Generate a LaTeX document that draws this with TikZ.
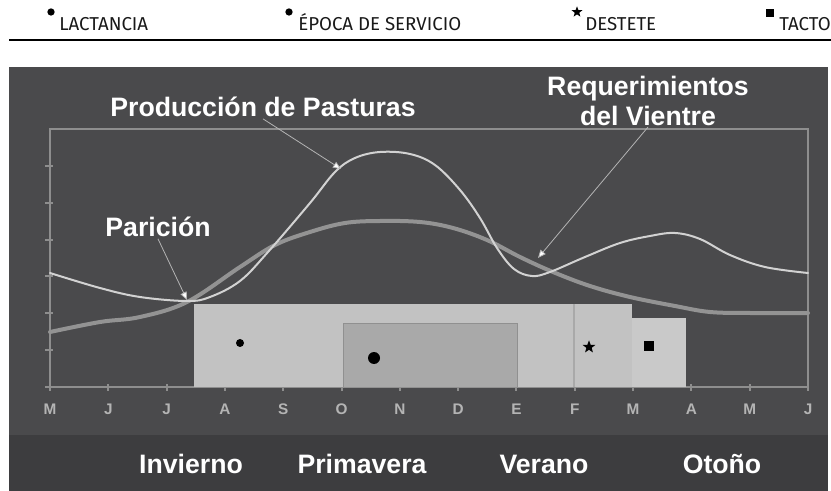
\documentclass[tikz,border=0pt]{standalone}
\usepackage{fontspec}
\setmainfont{Liberation Sans}
\newfontfamily\leyendafont{Fira Sans}
\usetikzlibrary{arrows.meta,shapes.geometric}

\definecolor{panel}{HTML}{4A4A4C}
\definecolor{banda}{HTML}{3D3D3F}
\definecolor{ejegris}{HTML}{8E8E8E}
\definecolor{mesgris}{HTML}{B4B4B4}
\definecolor{pastura}{HTML}{D2D2D2}
\definecolor{vientre}{HTML}{939393}
\definecolor{lactancia}{HTML}{C2C2C2}
\definecolor{tacto}{HTML}{C9C9C9}
\definecolor{servicio}{HTML}{A9A9A9}

\begin{document}
\begin{tikzpicture}[
    x=0.75pt, y=-0.75pt,
    rotulo/.style={font=\fontsize{20}{22}\selectfont\bfseries, text=white, inner sep=1pt},
    estacion/.style={rotulo, anchor=base},
    mes/.style={font=\fontsize{11.5}{13}\selectfont\bfseries, text=mesgris, anchor=base, inner sep=0pt},
    leyenda/.style={font=\leyendafont\fontsize{14}{16}\selectfont, text=black!90, anchor=base west, inner sep=0pt},
    eje/.style={draw=ejegris, line width=1.5pt},
    flecha/.style={draw=mesgris, line width=0.6pt, -{Triangle[fill=white, length=6pt, width=5pt]}},
    punto/.style={circle, fill=black, inner sep=0pt},
]
\useasboundingbox (0,0) rectangle (831,491);
\fill[white] (0,0) rectangle (831,491);

% Leyenda
\node[punto, minimum size=5.5pt] (l1) at (51,12) {};
\node[leyenda] (t1) at (59,31) {LACTANCIA};
\node[punto, minimum size=5.5pt] (l2) at (289,12) {};
\node[leyenda] (t2) at (298,31) {ÉPOCA DE SERVICIO};
\node[star, star points=5, star point ratio=2.4, fill=black, inner sep=0pt, minimum size=8.5pt] (l3) at (577,12) {};
\node[leyenda] (t3) at (585,31) {DESTETE};
\node[rectangle, fill=black, inner sep=0pt, minimum size=6pt] (l4) at (770,13) {};
\node[leyenda] (t4) at (779,31) {TACTO};
\draw[black, line width=2pt] (9,40) -- (831,40);

% Fondo
\fill[panel] (9,67) rectangle (828,491);
\fill[banda] (9,435) rectangle (828,491);

% Ejes
\draw[eje] (50,129) rectangle (808,387);
\foreach \k in {1,...,7}
    \draw[eje] (45,129+\k*36.86) -- (53,129+\k*36.86);
\foreach \m [count=\k from 0] in {M,J,J,A,S,O,N,D,E,F,M,A,M,J} {
    \draw[eje] (50+\k*58.31,384) -- (50+\k*58.31,391);
    \node[mes] (mes\k) at (50+\k*58.31,414) {\m};
}

% Bloques
\fill[lactancia] (194,304) rectangle (632,387);
\draw[servicio, line width=0.8pt] (574,304) -- (574,387);
\fill[tacto] (632,318) rectangle (686,387);
\filldraw[fill=servicio, draw=servicio!85!black, line width=0.6pt] (343,323) rectangle (517,387);

\node[punto, minimum size=6pt] (m1) at (240,343) {};
\node[punto, minimum size=9pt] (m2) at (374,358) {};
\node[star, star points=5, star point ratio=2.4, fill=black, inner sep=0pt, minimum size=10pt] (m3) at (589,347) {};
\node[rectangle, fill=black, inner sep=0pt, minimum size=7pt] (m4) at (649,346) {};

% Curvas
\draw[vientre, line width=3pt, line cap=round] plot[smooth, tension=0.6] coordinates {
    (50,332) (100,322) (140,317) (187,302) (240,267) (275,245) (310,232) (345,223)
    (380,221) (420,222) (453,228) (487,240) (520,257) (553,272) (590,286) (630,297)
    (675,306) (710,312) (750,313) (808,313)};
\draw[pastura, line width=1.5pt, line cap=round] plot[smooth, tension=0.6] coordinates {
    (50,273) (100,288) (140,297) (187,301) (210,297) (240,281) (268,252) (310,203)
    (335,172) (355,158) (380,152) (410,154) (435,165) (460,190) (480,218) (497,248)
    (514,269) (532,276) (550,272) (585,257) (620,243) (650,236) (675,233) (700,239)
    (730,255) (765,267) (808,273)};

% Rotulos
\node[rotulo, anchor=base] (pasturas) at (263,117) {Producción de Pasturas};
\node[rotulo, align=center] (vientre) at (648,101) {Requerimientos\\del Vientre};
\node[rotulo, anchor=base] (paricion) at (158,237) {Parición};

\coordinate (pasturas-p) at (341,169);
\coordinate (vientre-p) at (538,258);
\coordinate (paricion-p) at (187,300);
\draw[flecha] (pasturas.south) -- (pasturas-p);
\draw[flecha] (vientre.south) -- (vientre-p);
\draw[flecha] (paricion.south) -- (paricion-p);

% Estaciones
\node[estacion] (invierno) at (191,473) {Invierno};
\node[estacion] (primavera) at (362,473) {Primavera};
\node[estacion] (verano) at (544,473) {Verano};
\node[estacion] (otono) at (722,473) {Otoño};

\end{tikzpicture}
\end{document}
